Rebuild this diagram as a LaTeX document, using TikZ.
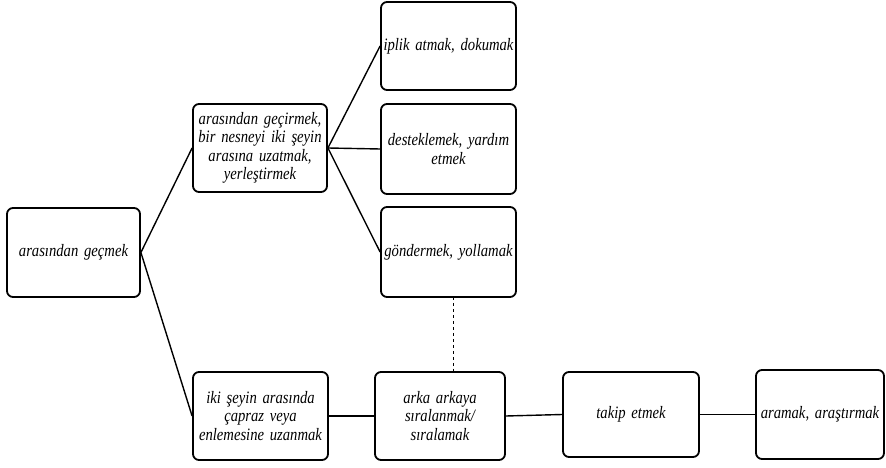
\documentclass[tikz,border=0pt]{standalone}
\usepackage{fontspec}
\setmainfont{Liberation Serif}
\newfontfamily\boxfont[FakeStretch=0.84,WordSpace=0.8]{Liberation Serif}
\begin{document}
\begin{tikzpicture}[x=1bp,y=-1bp,
  box/.style={draw=black,line width=1.8bp,rounded corners=6bp,fill=white,
    align=center,inner sep=1bp,font=\boxfont\fontsize{17.5}{18.5}\selectfont\itshape},
  link/.style={draw=black,line width=1.4bp}]
\useasboundingbox (0,0) rectangle (886,468);
\node[box,minimum width=133bp,minimum height=89bp,text width=130bp] (a) at (73.5,252.5) {arasından geçmek};
\node[box,minimum width=134bp,minimum height=88bp,text width=131bp] (b) at (260,148) {arasından geçirmek,\\ bir nesneyi iki şeyin\\ arasına uzatmak,\\ yerleştirmek};
\node[box,minimum width=135bp,minimum height=88bp,text width=132bp] (c) at (448.5,46) {iplik atmak, dokumak};
\node[box,minimum width=135bp,minimum height=90bp,text width=132bp] (d) at (448.5,149) {desteklemek, yardım\\ etmek};
\node[box,minimum width=135bp,minimum height=90bp,text width=132bp] (e) at (448.5,252) {göndermek, yollamak};
\node[box,minimum width=135bp,minimum height=88bp,text width=132bp] (f) at (260.5,416) {iki şeyin arasında\\ çapraz veya\\ enlemesine uzanmak};
\node[box,minimum width=130bp,minimum height=88bp,text width=127bp] (g) at (440,416) {arka arkaya\\ sıralanmak/\\ sıralamak};
\node[box,minimum width=136bp,minimum height=85bp,text width=133bp] (h) at (631,414.5) {takip etmek};
\node[box,minimum width=128bp,minimum height=89bp,text width=125bp] (i) at (820,414.5) {aramak, araştırmak};
\draw[link] (a.east) -- (b.west);
\draw[link] (a.east) -- (f.west);
\draw[link] (b.east) -- (c.west);
\draw[link] (b.east) -- (d.west);
\draw[link] (b.east) -- (e.west);
\draw[link] (f.east) -- (g.west);
\draw[link] (g.east) -- (h.west);
\draw[link] (h.east) -- (i.west);
\coordinate (ds) at (453,297);
\draw[black,line width=1bp,dashed] (ds) -- (g.north -| ds);
\end{tikzpicture}
\end{document}
